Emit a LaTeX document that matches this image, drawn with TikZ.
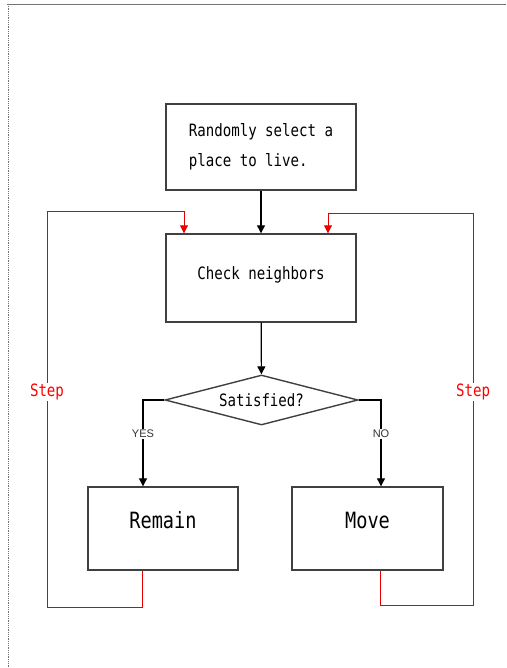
\documentclass[tikz,border=0pt]{standalone}
\usepackage{fontspec}
\newfontfamily\gothicfont[FakeStretch=0.83]{DejaVu Sans Mono}
\newfontfamily\yesnofont{Liberation Sans}
\usetikzlibrary{shapes.geometric,arrows.meta}
\tikzset{
	flowbox/.style={draw=black!75, line width=1.4pt, fill=white, inner sep=0pt, font=\gothicfont\fontsize{17}{30}\selectfont},
	bigtext/.style={font=\gothicfont\fontsize{22.4}{24}\selectfont, text depth=17pt},
	flowarrow/.style={draw=black, line width=1.2pt, -{Triangle[width=8pt,length=8pt]}},
	steploop/.style={draw=red!85!black!60!red, line width=0.9pt, -{Triangle[width=8pt,length=8pt]}},
	steplabel/.style={fill=white, text=red, inner sep=1pt, font=\gothicfont\fontsize{17}{18}\selectfont},
	yesno/.style={fill=white, inner sep=1pt, text=black!80, font=\yesnofont\fontsize{11}{12}\selectfont}
}

\begin{document}
\begin{tikzpicture}[x=1pt, y=-1pt]
		%%%%% START %%%%%
		\useasboundingbox (0, 0) rectangle (506, 668);
		
		\draw[black!55, line width=0.8pt] (7, 4) -- (506, 4);
		\draw[black!55, line width=0.8pt, densely dotted] (8, 4) -- (8, 668);
		
		\node[flowbox, minimum width=190pt, minimum height=86pt, align=left] (start) at (261, 147) {Randomly select a\\place to live.};
		\node[flowbox, minimum width=190pt, minimum height=88pt, text depth=10pt] (check) at (261, 278) {Check neighbors};
		\node[flowbox, shape=diamond, aspect=3.86, minimum width=193pt, minimum height=50pt] (sat) at (261.5, 400) {Satisfied?};
		\node[flowbox, bigtext, minimum width=150pt, minimum height=83pt] (remain) at (163, 528.5) {Remain};
		\node[flowbox, bigtext, minimum width=151pt, minimum height=83pt] (move) at (367.5, 528.5) {Move};
		
		\draw[flowarrow] (start) -- (check);
		\draw[flowarrow] (check) -- (sat);
		\draw[flowarrow] (sat.west) -| node[yesno, pos=0.695] {YES} ([xshift=-20pt]remain.north);
		\draw[flowarrow] (sat.east) -| node[yesno, pos=0.695] {NO} ([xshift=13.5pt]move.north);
		
		\coordinate (lbot) at (47, 607);
		\coordinate (ltop) at (47, 211);
		\coordinate (rbot) at (473, 605);
		\coordinate (rtop) at (473, 213);
		
		\draw[steploop] ([xshift=-21pt]remain.south) |- (lbot) -- node[steplabel, pos=0.543] {Step} (ltop) -| ([xshift=-77pt]check.north);
		\draw[steploop] ([xshift=12.5pt]move.south) |- (rbot) -- node[steplabel, pos=0.543] {Step} (rtop) -| ([xshift=67pt]check.north);
		
		%%%%% END %%%%%
	\end{tikzpicture}
\end{document}
